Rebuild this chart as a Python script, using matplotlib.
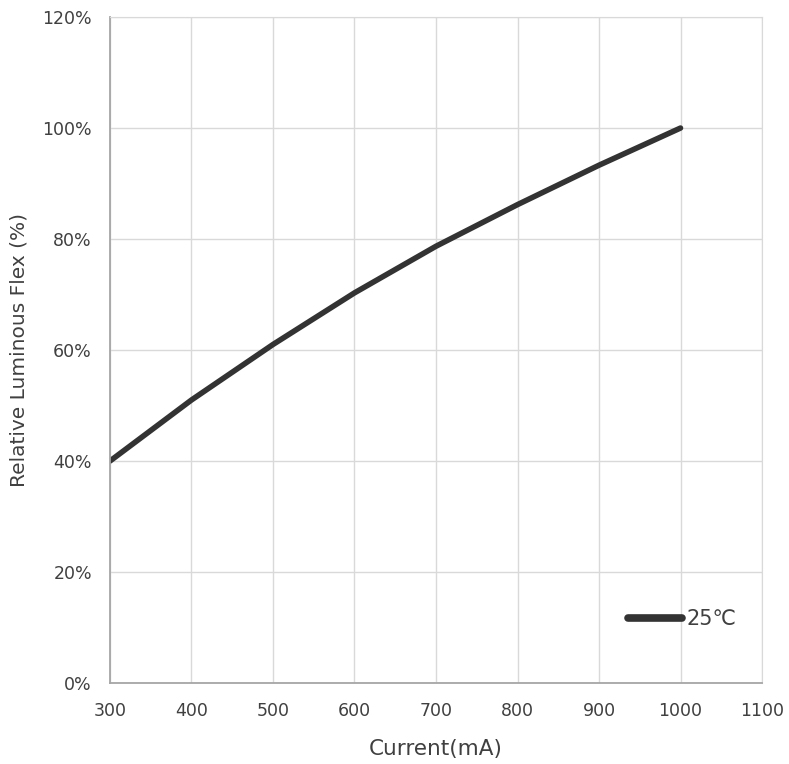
import matplotlib
matplotlib.use("Agg")
import matplotlib.pyplot as plt
from matplotlib.ticker import FuncFormatter

plt.rcParams['font.family'] = ['DejaVu Sans', 'Noto Sans CJK SC']

# data
current = [300, 400, 500, 600, 700, 800, 900, 1000]
flux = [40.0, 51.0, 61.0, 70.3, 78.7, 86.2, 93.3, 100.0]
series_label = '25℃'
x_ticks = [300, 400, 500, 600, 700, 800, 900, 1000, 1100]
y_ticks = [0, 20, 40, 60, 80, 100, 120]

fig = plt.figure(figsize=(7.89, 7.64), dpi=100)
ax = fig.add_axes([0.1394, 0.106, 0.8264, 0.8717])

ax.plot(current, flux, color='#333333', lw=4, solid_capstyle='round', label=series_label)

ax.set_xlim(300, 1100)
ax.set_ylim(0, 120)
ax.set_xticks(x_ticks)
ax.set_yticks(y_ticks)
ax.yaxis.set_major_formatter(FuncFormatter(lambda v, p: '%d%%' % v))
ax.grid(True, color='#d9d9d9', lw=1)
ax.set_axisbelow(True)
ax.tick_params(length=0, labelsize=12.5, colors='#404040')
ax.tick_params(axis='x', pad=14)
ax.tick_params(axis='y', pad=13)

for s in ['top', 'right']:
    ax.spines[s].set_color('#d9d9d9')
for s in ['left', 'bottom']:
    ax.spines[s].set_color('#a6a6a6')
    ax.spines[s].set_linewidth(1.3)

ax.set_xlabel('Current(mA)', fontsize=15.5, color='#404040', labelpad=13)
ax.set_ylabel('Relative Luminous Flex (%)', fontsize=14.5, color='#404040', labelpad=10)

leg = ax.legend(loc='center left', bbox_to_anchor=((628 - 110) / 652, (683 - 619) / 666),
                frameon=False, borderpad=0, borderaxespad=0,
                handlelength=2.6, handletextpad=0.2, fontsize=15)
for t in leg.get_texts():
    t.set_color('#404040')
for ln in leg.get_lines():
    ln.set_linewidth(5.5)

fig.savefig('out.png', dpi=100)
